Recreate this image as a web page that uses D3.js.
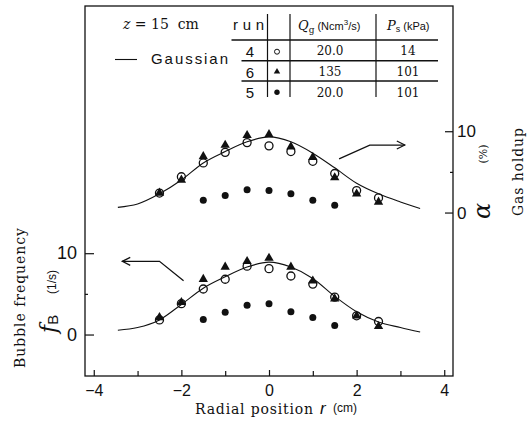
<!DOCTYPE html>
<html><head><meta charset="utf-8">
<script src="https://cdn.jsdelivr.net/npm/d3@7"></script>
<style>body{margin:0;background:#fff}svg{display:block}</style>
</head><body>
<svg id="c" width="528" height="421"></svg>
<script>
// ---- data ----
const rPos = [-2.5,-2,-1.5,-1,-0.5,0,0.5,1,1.5,2,2.5];
const rPosRun5 = [-1.5,-1,-0.5,0,0.5,1,1.5];
// gas holdup alpha (%)  (right axis)
const alphaRun4 = [2.4,4.4,6.1,7.4,8.6,8.2,7.5,6.3,4.8,2.7,1.8];
const alphaRun6 = [2.4,4.0,6.9,8.3,9.5,9.6,8.1,6.8,4.3,2.3,1.3];
const alphaRun5 = [1.5,2.1,2.8,2.7,2.3,1.5,0.9];
// bubble frequency fB (1/s)  (left axis)
const freqRun4 = [1.8,3.8,5.6,6.8,8.4,8.1,7.2,6.2,4.6,2.3,1.6];
const freqRun6 = [2.1,3.95,6.8,8.3,9.0,9.4,8.3,6.6,4.4,2.3,1.0];
const freqRun5 = [1.85,2.75,3.6,3.8,2.8,2.1,1.1];
// Gaussian fits
const fitR = [-3.45,-3,-2.5,-2,-1.5,-1,-0.5,0,0.5,1,1.5,2,2.5,3,3.45];
const alphaFit = [0.64,1.05,2.3,4.0,6.1,7.5,8.7,9.3,8.7,7.3,5.5,3.6,2.3,1.3,0.5];
const freqFit = [0.53,0.86,1.8,3.7,5.7,7.1,8.3,8.9,8.3,6.9,4.7,2.8,1.55,0.86,0.3];
// table
const runs = ["4","6","5"];
const runMarkers = ["open","tri","filled"];
const qgVals = ["20.0","135","20.0"];
const psVals = ["14","101","101"];
// ticks
const xMajor = [-4,-2,0,2,4], xMinor = [-3,-1,1,3];
const yMajor = [0,10], yMinor = [5];
// annotation arrows (data coords)
const arrowAlpha = [[1.6,6.6],[2.3,8.3],[3.1,8.3]];   // right axis
const arrowFreq = [[-1.95,6.6],[-2.5,9.0],[-3.35,9.0]]; // left axis

// ---- layout ----
const L=85, R=453, T=6, B=376;
const svg = d3.select("#c");
const x = d3.scaleLinear().domain([-4.2,4.2]).range([L,R]);
const yL = d3.scaleLinear().domain([-5.1,40.4]).range([B,T]);
const yR = d3.scaleLinear().domain([-20.1,25.4]).range([B,T]);
const SANS = "Liberation Sans, Arial, sans-serif";
const SERIF = "DejaVu Serif, serif";

// frame
svg.append("rect").attr("x",L).attr("y",T).attr("width",R-L).attr("height",B-T)
  .attr("fill","none").attr("stroke","#111").attr("stroke-width",1.3);

// axes
function styleAxis(g,fs){g.select(".domain").remove();g.selectAll("line").attr("stroke","#111").attr("stroke-width",1.2);
  g.selectAll("text").attr("font-family",SANS).attr("font-size",fs).attr("fill","#111");}
svg.append("g").attr("transform",`translate(0,${B})`)
  .call(d3.axisBottom(x).tickValues(xMajor).tickSizeInner(-6).tickSizeOuter(0).tickPadding(9).tickFormat(d3.format("d")))
  .call(g=>styleAxis(g,16));
svg.append("g").attr("transform",`translate(0,${B})`)
  .call(d3.axisBottom(x).tickValues(xMinor).tickSizeInner(-5).tickSizeOuter(0).tickFormat(""))
  .call(g=>styleAxis(g,16));
svg.append("g").attr("transform",`translate(${L},0)`)
  .call(d3.axisLeft(yL).tickValues(yMajor).tickSizeInner(-9).tickSizeOuter(0).tickPadding(8).tickFormat(d3.format("d")))
  .call(g=>styleAxis(g,18));
svg.append("g").attr("transform",`translate(${L},0)`)
  .call(d3.axisLeft(yL).tickValues(yMinor).tickSizeInner(-3).tickSizeOuter(0).tickFormat(""))
  .call(g=>styleAxis(g,18));
svg.append("g").attr("transform",`translate(${R},0)`)
  .call(d3.axisRight(yR).tickValues(yMajor).tickSizeInner(-8).tickSizeOuter(0).tickPadding(4).tickFormat(d3.format("d")))
  .call(g=>styleAxis(g,17));
svg.append("g").attr("transform",`translate(${R},0)`)
  .call(d3.axisRight(yR).tickValues(yMinor).tickSizeInner(-3).tickSizeOuter(0).tickFormat(""))
  .call(g=>styleAxis(g,17));

// curves
const lineA = d3.line().x((d,i)=>x(fitR[i])).y(d=>yR(d)).curve(d3.curveMonotoneX);
const lineF = d3.line().x((d,i)=>x(fitR[i])).y(d=>yL(d)).curve(d3.curveMonotoneX);
svg.append("path").attr("d",lineA(alphaFit)).attr("fill","none").attr("stroke","#111").attr("stroke-width",1.1);
svg.append("path").attr("d",lineF(freqFit)).attr("fill","none").attr("stroke","#111").attr("stroke-width",1.1);

// markers
const tri = d3.symbol(d3.symbolTriangle,38);
function drawSet(rs, vals, sc, kind){
  const g = svg.append("g");
  rs.forEach((r,i)=>{
    const cx=x(r), cy=sc(vals[i]);
    if(kind==="tri") g.append("path").attr("d",tri()).attr("transform",`translate(${cx},${cy})`).attr("fill","#111");
    else if(kind==="open") g.append("circle").attr("cx",cx).attr("cy",cy).attr("r",4).attr("fill","none").attr("stroke","#111").attr("stroke-width",1.3);
    else g.append("circle").attr("cx",cx).attr("cy",cy).attr("r",3.5).attr("fill","#111");
  });
}
drawSet(rPos,alphaRun6,yR,"tri"); drawSet(rPos,alphaRun4,yR,"open"); drawSet(rPosRun5,alphaRun5,yR,"filled");
drawSet(rPos,freqRun6,yL,"tri"); drawSet(rPos,freqRun4,yL,"open"); drawSet(rPosRun5,freqRun5,yL,"filled");

// arrows
function arrow(pts, sc, dir){
  const p = pts.map(d=>[x(d[0]),sc(d[1])]);
  svg.append("path").attr("d",d3.line()(p)).attr("fill","none").attr("stroke","#111").attr("stroke-width",1.3);
  const t=p[p.length-1];
  svg.append("path").attr("d",d3.line()([[t[0]-dir*8,t[1]-4],t,[t[0]-dir*8,t[1]+4]])).attr("fill","none").attr("stroke","#111").attr("stroke-width",1.2);
}
arrow(arrowAlpha,yR,1); arrow(arrowFreq,yL,-1);

// legend & table
const t1 = svg.append("text").attr("x",123).attr("y",29).attr("font-family",SERIF).attr("font-size",14).attr("fill","#111");
t1.append("tspan").attr("font-style","italic").text("z");
t1.append("tspan").text(" = 15\u00a0\u00a0cm");
svg.append("line").attr("x1",115).attr("x2",137).attr("y1",59.5).attr("y2",59.5).attr("stroke","#111").attr("stroke-width",1.1);
svg.append("text").attr("x",151).attr("y",64).attr("font-family",SANS).attr("font-size",15).attr("textLength",77).attr("fill","#111").text("Gaussian");
svg.append("text").attr("x",233).attr("y",30).attr("font-family",SANS).attr("font-size",15).attr("textLength",31).attr("fill","#111").text("run");
const q = svg.append("text").attr("x",298).attr("y",30).attr("fill","#111");
q.append("tspan").attr("font-family",SERIF).attr("font-style","italic").attr("font-size",13).text("Q");
q.append("tspan").attr("font-family",SERIF).attr("font-size",9).attr("dy",3).text("g");
q.append("tspan").attr("font-family",SANS).attr("font-size",11).attr("dy",-3).attr("dx",3).text("(Ncm");
q.append("tspan").attr("font-family",SANS).attr("font-size",8).attr("dy",-5).text("3");
q.append("tspan").attr("font-family",SANS).attr("font-size",11).attr("dy",5).text("/s)");
const p = svg.append("text").attr("x",387).attr("y",30).attr("fill","#111");
p.append("tspan").attr("font-family",SERIF).attr("font-style","italic").attr("font-size",13).text("P");
p.append("tspan").attr("font-family",SANS).attr("font-size",9).attr("dy",2).text("s");
p.append("tspan").attr("font-family",SANS).attr("font-size",11).attr("dy",-2).attr("dx",3).text("(kPa)");
[[267.5],[290],[376]].forEach(d=>svg.append("line").attr("x1",d[0]).attr("x2",d[0]).attr("y1",14).attr("y2",97).attr("stroke","#111").attr("stroke-width",1.2));
[[231.5,40],[241.5,60.7],[241.5,81]].forEach(d=>svg.append("line").attr("x1",d[0]).attr("x2",438).attr("y1",d[1]).attr("y2",d[1]).attr("stroke","#111").attr("stroke-width",1.5));
const rowBase=[57,78,98], rowSym=[51.7,71.7,92.3], rowVal=[55,76,96.5];
runs.forEach((r,i)=>{
  svg.append("text").attr("x",250).attr("y",rowBase[i]).attr("text-anchor","middle").attr("font-family",SANS).attr("font-size",15).attr("fill","#111").text(r);
  const k=runMarkers[i], sx=277, sy=rowSym[i];
  if(k==="tri") svg.append("path").attr("d",d3.symbol(d3.symbolTriangle,18)()).attr("transform",`translate(${sx},${sy})`).attr("fill","#111");
  else if(k==="open") svg.append("circle").attr("cx",sx).attr("cy",sy).attr("r",2.5).attr("fill","none").attr("stroke","#111").attr("stroke-width",1);
  else svg.append("circle").attr("cx",sx).attr("cy",sy).attr("r",2.7).attr("fill","#111");
  svg.append("text").attr("x",330).attr("y",rowVal[i]).attr("text-anchor","middle").attr("font-family",SERIF).attr("font-size",12).attr("fill","#111").text(qgVals[i]);
  svg.append("text").attr("x",408).attr("y",rowVal[i]).attr("text-anchor","middle").attr("font-family",SERIF).attr("font-size",12).attr("fill","#111").text(psVals[i]);
});

// axis titles
svg.append("text").attr("x",254).attr("y",414).attr("text-anchor","middle").attr("font-family",SERIF).attr("font-size",14).attr("textLength",118).attr("fill","#111").text("Radial position");
svg.append("text").attr("x",320).attr("y",414).attr("font-family",SANS).attr("font-style","italic").attr("font-size",17).attr("fill","#111").text("r");
svg.append("text").attr("x",333).attr("y",412).attr("font-family",SANS).attr("font-size",12).attr("fill","#111").text("(cm)");

svg.append("text").attr("transform","translate(25,298) rotate(-90)").attr("text-anchor","middle").attr("font-family",SERIF).attr("font-size",14).attr("textLength",140).attr("fill","#111").text("Bubble frequency");
const fb = svg.append("text").attr("transform","translate(56,333) rotate(-90)").attr("fill","#111");
fb.append("tspan").attr("font-family",SERIF).attr("font-style","italic").attr("font-size",22).text("f");
fb.append("tspan").attr("font-family",SANS).attr("font-size",15).attr("dy",2).text("B");
svg.append("text").attr("transform","translate(56,282) rotate(-90)").attr("text-anchor","middle").attr("font-family",SANS).attr("font-size",12).attr("fill","#111").text("(1/s)");

svg.append("text").attr("transform","translate(490,211) rotate(-90)").attr("text-anchor","middle").attr("font-family",SERIF).attr("font-style","italic").attr("font-size",24).attr("fill","#111").text("α");
svg.append("text").attr("transform","translate(487,154) rotate(-90)").attr("text-anchor","middle").attr("font-family",SERIF).attr("font-size",11).attr("fill","#111").text("(%)");
svg.append("text").attr("transform","translate(523,172) rotate(-90)").attr("text-anchor","middle").attr("font-family",SERIF).attr("font-size",14).attr("textLength",88).attr("fill","#111").text("Gas holdup");
</script>
</body></html>
